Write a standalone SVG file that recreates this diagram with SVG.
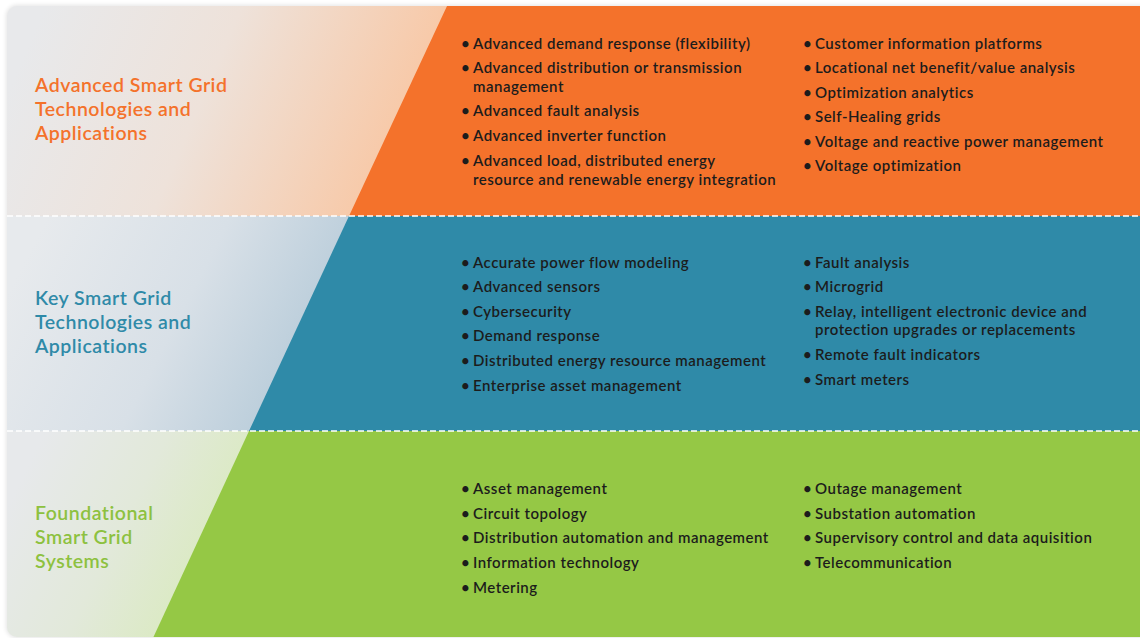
<svg xmlns="http://www.w3.org/2000/svg" width="1140" height="638" viewBox="0 0 1140 638">
<defs>
<linearGradient id="gO" gradientUnits="userSpaceOnUse" x1="30" y1="40" x2="400" y2="200">
<stop offset="0" stop-color="#e8e9eb"/><stop offset="0.45" stop-color="#eee2da"/><stop offset="1" stop-color="#f9c5a0"/>
</linearGradient>
<linearGradient id="gB" gradientUnits="userSpaceOnUse" x1="30" y1="250" x2="320" y2="400">
<stop offset="0" stop-color="#e7eaed"/><stop offset="0.5" stop-color="#d8e0e7"/><stop offset="1" stop-color="#b2c8d7"/>
</linearGradient>
<linearGradient id="gG" gradientUnits="userSpaceOnUse" x1="30" y1="460" x2="230" y2="560">
<stop offset="0" stop-color="#e7e9eb"/><stop offset="0.5" stop-color="#e2e9da"/><stop offset="1" stop-color="#d9eabd"/>
</linearGradient>
<clipPath id="card"><rect x="7" y="6" width="1160" height="631" rx="10"/></clipPath>
<filter id="sh" x="-5%" y="-5%" width="110%" height="110%"><feGaussianBlur stdDeviation="2"/></filter>
<style>
.t{font-family:Lato,"Open Sans","Liberation Sans",sans-serif;font-weight:600;font-size:15px;letter-spacing:0.5px;fill:#1c1c1c}
.b{font-family:Lato,"Open Sans","Liberation Sans",sans-serif;font-weight:600;font-size:15px;fill:#1c1c1c}
.h{font-family:Lato,"Open Sans","Liberation Sans",sans-serif;font-weight:600;font-size:19.5px;letter-spacing:0.5px}
.dash{stroke:#ffffff;stroke-width:1.6;stroke-dasharray:6 3;fill:none}
</style>
</defs>
<rect x="0" y="0" width="1140" height="638" fill="#ffffff"/>
<rect x="6" y="5" width="1160" height="633" rx="11" fill="#000" opacity="0.1" filter="url(#sh)"/>
<g clip-path="url(#card)">
<g id="band-advanced">
<rect x="7" y="6" width="1133" height="210" fill="url(#gO)"/>
<polygon points="447,6 1140,6 1140,216 349,216" fill="#f4722b"/>
</g>
<g id="band-key">
<rect x="7" y="216" width="1133" height="215" fill="url(#gB)"/>
<polygon points="349,216 1140,216 1140,431 249,431" fill="#2f8aa8"/>
</g>
<g id="band-foundational">
<rect x="7" y="431" width="1133" height="207" fill="url(#gG)"/>
<polygon points="249,431 1140,431 1140,638 153,638" fill="#95c845"/>
</g>
</g>
<g id="connectors">
<line class="dash" x1="7" y1="216" x2="1140" y2="216"/>
<line class="dash" x1="7" y1="431" x2="1140" y2="431"/>
</g>
<g id="title-advanced" class="h" fill="#f4722b">
<text x="35" y="92">Advanced Smart Grid</text>
<text x="35" y="116">Technologies and</text>
<text x="35" y="140">Applications</text>
</g>
<g id="title-key" class="h" fill="#2f8aa8">
<text x="35" y="305">Key Smart Grid</text>
<text x="35" y="329">Technologies and</text>
<text x="35" y="353">Applications</text>
</g>
<g id="title-foundational" class="h" fill="#8dc13f">
<text x="35" y="520">Foundational</text>
<text x="35" y="544">Smart Grid</text>
<text x="35" y="568">Systems</text>
</g>
<g id="list-advanced-1" class="t">
<text class="b" x="461" y="49">•</text><text x="473" y="49">Advanced demand response (flexibility)</text>
<text class="b" x="461" y="73">•</text><text x="473" y="73">Advanced distribution or transmission</text>
<text x="473" y="92">management</text>
<text class="b" x="461" y="116">•</text><text x="473" y="116">Advanced fault analysis</text>
<text class="b" x="461" y="141">•</text><text x="473" y="141">Advanced inverter function</text>
<text class="b" x="461" y="166">•</text><text x="473" y="166">Advanced load, distributed energy</text>
<text x="473" y="185">resource and renewable energy integration</text>
</g>
<g id="list-advanced-2" class="t">
<text class="b" x="803" y="49">•</text><text x="815" y="49">Customer information platforms</text>
<text class="b" x="803" y="73">•</text><text x="815" y="73">Locational net benefit/value analysis</text>
<text class="b" x="803" y="98">•</text><text x="815" y="98">Optimization analytics</text>
<text class="b" x="803" y="122">•</text><text x="815" y="122">Self-Healing grids</text>
<text class="b" x="803" y="147">•</text><text x="815" y="147">Voltage and reactive power management</text>
<text class="b" x="803" y="171">•</text><text x="815" y="171">Voltage optimization</text>
</g>
<g id="list-key-1" class="t">
<text class="b" x="461" y="268">•</text><text x="473" y="268">Accurate power flow modeling</text>
<text class="b" x="461" y="292">•</text><text x="473" y="292">Advanced sensors</text>
<text class="b" x="461" y="317">•</text><text x="473" y="317">Cybersecurity</text>
<text class="b" x="461" y="341">•</text><text x="473" y="341">Demand response</text>
<text class="b" x="461" y="366">•</text><text x="473" y="366">Distributed energy resource management</text>
<text class="b" x="461" y="391">•</text><text x="473" y="391">Enterprise asset management</text>
</g>
<g id="list-key-2" class="t">
<text class="b" x="803" y="268">•</text><text x="815" y="268">Fault analysis</text>
<text class="b" x="803" y="292">•</text><text x="815" y="292">Microgrid</text>
<text class="b" x="803" y="317">•</text><text x="815" y="317">Relay, intelligent electronic device and</text>
<text x="815" y="335">protection upgrades or replacements</text>
<text class="b" x="803" y="360">•</text><text x="815" y="360">Remote fault indicators</text>
<text class="b" x="803" y="385">•</text><text x="815" y="385">Smart meters</text>
</g>
<g id="list-foundational-1" class="t">
<text class="b" x="461" y="494">•</text><text x="473" y="494">Asset management</text>
<text class="b" x="461" y="519">•</text><text x="473" y="519">Circuit topology</text>
<text class="b" x="461" y="543">•</text><text x="473" y="543">Distribution automation and management</text>
<text class="b" x="461" y="568">•</text><text x="473" y="568">Information technology</text>
<text class="b" x="461" y="593">•</text><text x="473" y="593">Metering</text>
</g>
<g id="list-foundational-2" class="t">
<text class="b" x="803" y="494">•</text><text x="815" y="494">Outage management</text>
<text class="b" x="803" y="519">•</text><text x="815" y="519">Substation automation</text>
<text class="b" x="803" y="543">•</text><text x="815" y="543">Supervisory control and data aquisition</text>
<text class="b" x="803" y="568">•</text><text x="815" y="568">Telecommunication</text>
</g>
</svg>
